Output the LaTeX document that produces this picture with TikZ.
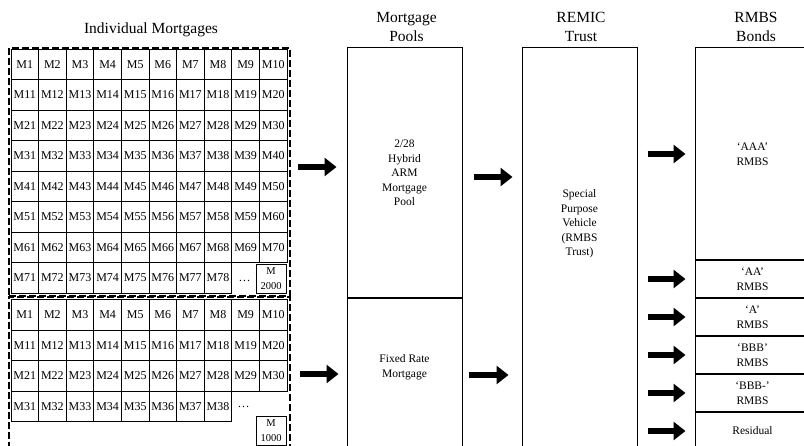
\documentclass[tikz,border=0pt]{standalone}
\usepackage{fontspec}
\setmainfont{Liberation Serif}
\usetikzlibrary{arrows.meta}

\begin{document}
\begin{tikzpicture}[
    x=1pt, y=-1pt,
    head/.style={align=center, font=\fontsize{15.5}{19}\selectfont},
    cell/.style={draw, line width=0.9pt, minimum width=27.6pt, minimum height=30.5pt,
                 inner sep=0pt, font=\fontsize{12}{14}\selectfont},
    lastcell/.style={draw, line width=0.9pt, minimum width=30pt, minimum height=29pt,
                     inner sep=0pt, align=center, font=\fontsize{10.5}{15}\selectfont},
    dots/.style={inner sep=0pt, font=\fontsize{12}{14}\selectfont},
    group/.style={draw, line width=1.3pt, dash pattern=on 7pt off 3pt, inner sep=0pt},
    col/.style={draw, line width=1pt, inner sep=0pt, minimum width=115pt,
                align=center, font=\fontsize{11.5}{14.5}\selectfont},
    txt/.style={align=center, font=\fontsize{11.5}{14.5}\selectfont},
    split/.style={line width=1.6pt},
    bigarr/.style={line width=6pt, -{Triangle[length=12pt, width=18pt]}}
]
\clip (0,0) rectangle (804,446);

\node[head] (titleind)   at (151,30)    {Individual Mortgages};
\node[head] (titlepool)  at (406.5,27)  {Mortgage\\Pools};
\node[head] (titletrust) at (581,27)    {REMIC\\Trust};
\node[head] (titlebond)  at (756,27)    {RMBS\\Bonds};

\node[group, minimum width=281pt, minimum height=248pt] (armgroup) at (149.5,172)   {};
\node[group, minimum width=281pt, minimum height=173pt] (fixgroup) at (149.5,383.5) {};

\foreach \r in {1,...,7}
  \foreach \c in {1,...,10} {
    \pgfmathtruncatemacro\n{(\r-1)*10+\c}
    \node[cell] (arm\n) at ({24.8+(\c-1)*27.6},{64.25+(\r-1)*30.5}) {M\n};
  }
\foreach \c in {1,...,8} {
  \pgfmathtruncatemacro\n{70+\c}
  \node[cell] (arm\n) at ({24.8+(\c-1)*27.6},277.75) {M\n};
}
\node[dots]     (armdots) at (244.5,281) {\dots};
\node[lastcell] (arm2000) at (271,278.5) {M\\2000};

\foreach \r in {1,2,3}
  \foreach \c in {1,...,10} {
    \pgfmathtruncatemacro\n{(\r-1)*10+\c}
    \node[cell] (fix\n) at ({24.8+(\c-1)*27.6},{314.75+(\r-1)*30.5}) {M\n};
  }
\foreach \c in {1,...,8} {
  \pgfmathtruncatemacro\n{30+\c}
  \node[cell] (fix\n) at ({24.8+(\c-1)*27.6},406.25) {M\n};
}
\node[dots]     (fixdots) at (243.5,407) {\dots};
\node[lastcell] (fix1000) at (271,431)   {M\\1000};

\node[col, minimum height=250pt] (pool1) at (404.5,173) {2/28\\Hybrid\\ARM\\Mortgage\\Pool};
\node[col, minimum height=180pt] (pool2) at (404.5,388) {};
\node[txt] (fixed) at (404.5,367.5) {Fixed Rate\\Mortgage};
\draw[split] (pool1.south west) -- (pool1.south east);

\node[col, minimum height=430pt] (trust) at (579.5,263) {};
\node[txt] (spv) at (579.5,224) {Special\\Purpose\\Vehicle\\(RMBS\\Trust)};

\node[col, minimum height=212pt] (trAAA) at (752.5,154) {`AAA'\\RMBS};
\node[col, minimum height=38pt]  (trAA)  at (752.5,279) {`AA'\\RMBS};
\node[col, minimum height=38pt]  (trA)   at (752.5,317) {`A'\\RMBS};
\node[col, minimum height=38pt]  (trBBB) at (752.5,355) {`BBB'\\RMBS};
\node[col, minimum height=38pt]  (trBBBm) at (752.5,393) {`BBB-'\\RMBS};
\node[col, minimum height=38pt]  (trRes) at (752.5,431) {Residual};
\foreach \b in {trAAA,trAA,trA,trBBB,trBBBm}
  \draw[split] (\b.south west) -- (\b.south east);

\draw[bigarr, shorten <=7pt, shorten >=10pt] (armgroup.east |- 0,167) -- (pool1.west |- 0,167);
\draw[bigarr, shorten <=9pt, shorten >=8pt]  (fixgroup.east |- 0,374) -- (pool2.west |- 0,374);
\draw[bigarr, shorten <=11pt, shorten >=9pt] (pool1.east |- 0,177) -- (trust.west |- 0,177);
\draw[bigarr, shorten <=6pt, shorten >=13pt] (pool2.east |- 0,375) -- (trust.west |- 0,375);
\foreach \b in {trAAA,trAA,trA,trBBB,trBBBm,trRes}
  \draw[bigarr, shorten <=10pt, shorten >=9pt] (trust.east |- \b.west) -- (\b.west);
\end{tikzpicture}
\end{document}
